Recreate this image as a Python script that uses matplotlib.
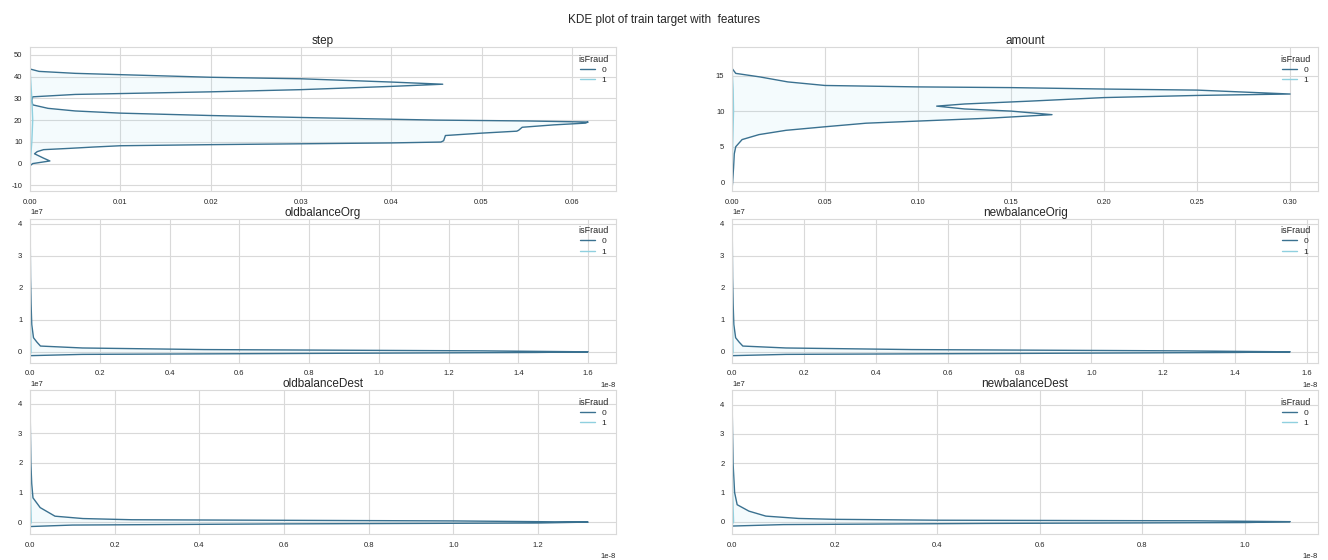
import matplotlib
matplotlib.use("Agg")
import matplotlib.pyplot as plt
from matplotlib.ticker import MultipleLocator
import seaborn as sns

features = ["step", "amount", "oldbalanceOrg", "newbalanceOrig",
            "oldbalanceDest", "newbalanceDest"]
hue_levels = ["0", "1"]

# isFraud = 0 density curves (value along y, density along x)
step_val = [-1.0, 0.0, 1.2, 2.5, 4.5, 5.5, 6.4, 7.0, 7.6, 8.2, 8.7, 9.1, 9.5, 9.9,
            10.5, 12.9, 14.0, 14.9, 15.3, 16.7, 17.8, 18.6, 19.1, 19.6, 20.0, 20.4,
            21.2, 22.1, 23.2, 24.2, 25.4, 27.0, 29.0, 30.7, 31.8, 32.2, 33.0, 34.0,
            35.5, 36.5, 37.5, 39.0, 39.7, 40.9, 41.5, 42.4, 43.5]
step_den = [0.0, 0.0003, 0.0022, 0.0015, 0.0005, 0.0008, 0.0015, 0.0044, 0.007,
            0.010, 0.020, 0.030, 0.040, 0.0455, 0.0458, 0.0460, 0.050, 0.0539,
            0.0541, 0.0545, 0.058, 0.0615, 0.0618, 0.055, 0.045, 0.040, 0.030,
            0.020, 0.010, 0.005, 0.002, 0.0003, 0.0002, 0.0003, 0.005, 0.010,
            0.020, 0.030, 0.040, 0.0457, 0.040, 0.030, 0.020, 0.010, 0.005,
            0.001, 0.0]

amount_val = [-1.0, 0.0, 2.0, 4.0, 5.0, 6.0, 6.7, 7.3, 7.8, 8.3, 8.6, 9.0, 9.5,
              10.0, 10.3, 10.7, 11.0, 11.4, 11.9, 12.2, 12.4, 12.95, 13.1, 13.3,
              13.4, 13.6, 14.1, 14.8, 15.3, 16.0]
amount_den = [0.0, 0.0003, 0.0008, 0.0012, 0.002, 0.0054, 0.0145, 0.029, 0.05,
              0.072, 0.10, 0.138, 0.172, 0.15, 0.125, 0.11, 0.125, 0.16, 0.20,
              0.25, 0.30, 0.25, 0.20, 0.15, 0.10, 0.05, 0.03, 0.015, 0.002, 0.0]

old_org_val = [-0.12e7, -0.08e7, -0.05e7, -0.02e7, 0.0, 0.03e7, 0.07e7, 0.12e7,
               0.18e7, 0.3e7, 0.44e7, 0.85e7, 1.5e7, 2.3e7, 3.0e7, 3.9e7]
old_org_den = [0.0, 0.15e-8, 0.8e-8, 1.45e-8, 1.60e-8, 1.3e-8, 0.5e-8, 0.15e-8,
               0.03e-8, 0.02e-8, 0.01e-8, 0.005e-8, 0.003e-8, 0.0015e-8,
               0.001e-8, 0.0005e-8]

new_org_val = [-0.12e7, -0.08e7, -0.05e7, -0.02e7, 0.0, 0.03e7, 0.07e7, 0.12e7,
               0.18e7, 0.3e7, 0.44e7, 0.85e7, 1.5e7, 2.3e7, 3.0e7, 3.9e7]
new_org_den = [0.0, 0.15e-8, 0.8e-8, 1.4e-8, 1.553e-8, 1.25e-8, 0.5e-8, 0.15e-8,
               0.03e-8, 0.02e-8, 0.01e-8, 0.005e-8, 0.003e-8, 0.0015e-8,
               0.001e-8, 0.0005e-8]

old_dest_val = [-0.15e7, -0.1e7, -0.06e7, -0.03e7, 0.0, 0.04e7, 0.08e7, 0.12e7,
                0.2e7, 0.49e7, 0.82e7, 1.3e7, 2.0e7, 3.0e7, 4.2e7]
old_dest_den = [0.0, 0.1e-8, 0.6e-8, 1.2e-8, 1.318e-8, 1.0e-8, 0.24e-8,
                0.125e-8, 0.059e-8, 0.024e-8, 0.007e-8, 0.004e-8, 0.002e-8,
                0.001e-8, 0.0]

new_dest_val = [-0.15e7, -0.1e7, -0.06e7, -0.03e7, 0.0, 0.03e7, 0.05e7, 0.08e7,
                0.11e7, 0.19e7, 0.36e7, 0.58e7, 1.0e7, 2.0e7, 3.0e7, 4.3e7]
new_dest_den = [0.0, 0.1e-8, 0.5e-8, 1.0e-8, 1.089e-8, 0.9e-8, 0.4e-8, 0.2e-8,
                0.13e-8, 0.066e-8, 0.033e-8, 0.01e-8, 0.005e-8, 0.002e-8,
                0.001e-8, 0.0]

# isFraud = 1 curves are squashed against the axis (tiny share of rows)
fraud_step_val = [-1.0, 10.0, 20.0, 30.0, 43.5]
fraud_step_den = [0.0, 0.0002, 0.0003, 0.0002, 0.0]
fraud_amount_val = [-1.0, 5.0, 10.0, 13.0, 16.0]
fraud_amount_den = [0.0, 0.0003, 0.0008, 0.0006, 0.0]
fraud_bal_val = [-0.12e7, 0.0, 1.0e7, 2.5e7, 4.0e7]
fraud_bal_den = [0.0, 0.003e-8, 0.001e-8, 0.0005e-8, 0.0]

curves0 = [(step_val, step_den), (amount_val, amount_den),
           (old_org_val, old_org_den), (new_org_val, new_org_den),
           (old_dest_val, old_dest_den), (new_dest_val, new_dest_den)]
curves1 = [(fraud_step_val, fraud_step_den), (fraud_amount_val, fraud_amount_den),
           (fraud_bal_val, fraud_bal_den), (fraud_bal_val, fraud_bal_den),
           (fraud_bal_val, fraud_bal_den), (fraud_bal_val, fraud_bal_den)]

# axis ranges and y tick steps as shown in the picture
y_limits = [(-12.7, 53.6), (-1.25, 19.0), (-0.34e7, 4.16e7), (-0.34e7, 4.16e7),
            (-0.41e7, 4.46e7), (-0.43e7, 4.5e7)]
y_steps = [10, 5, 1e7, 1e7, 1e7, 1e7]

sns.set_style("whitegrid")
plt.rcParams["font.family"] = ["Liberation Sans", "DejaVu Sans"]
plt.rcParams["xtick.labelsize"] = 5.5
plt.rcParams["ytick.labelsize"] = 5.5
plt.rcParams["axes.edgecolor"] = "0.85"
plt.rcParams["grid.color"] = "0.85"
plt.rcParams["axes.unicode_minus"] = False

c0 = "#3a7190"
c1 = "#8fd0df"

fig, axes = plt.subplots(3, 2, figsize=(13.28, 5.6), dpi=100)
fig.subplots_adjust(left=0.0226, right=0.9925, top=0.916, bottom=0.046,
                    wspace=0.198, hspace=0.19)
fig.suptitle("KDE plot of train target with  features", fontsize=8.5, y=0.975)

for ax, name, (v0, d0), (v1, d1), ylim, ys in zip(axes.flat, features, curves0,
                                                 curves1, y_limits, y_steps):
    ax.fill_betweenx(v0, 0, d0, color="#7fd3ea", alpha=0.08, lw=0)
    ax.plot(d0, v0, color=c0, lw=1.0, label=hue_levels[0])
    ax.plot(d1, v1, color=c1, lw=1.0, label=hue_levels[1])
    ax.set_xlim(0, max(d0) * 1.05)
    ax.set_ylim(*ylim)
    ax.yaxis.set_major_locator(MultipleLocator(ys))
    ax.set_title(name, fontsize=8.5, pad=2)
    ax.tick_params(axis="both", pad=2)
    ax.xaxis.get_offset_text().set_fontsize(5.5)
    ax.yaxis.get_offset_text().set_fontsize(5.5)
    ax.legend(title="isFraud", loc="upper right", frameon=False,
              fontsize=6, title_fontsize=6.5, handlelength=1.8,
              labelspacing=0.3)

fig.savefig("out.png", dpi=100)
